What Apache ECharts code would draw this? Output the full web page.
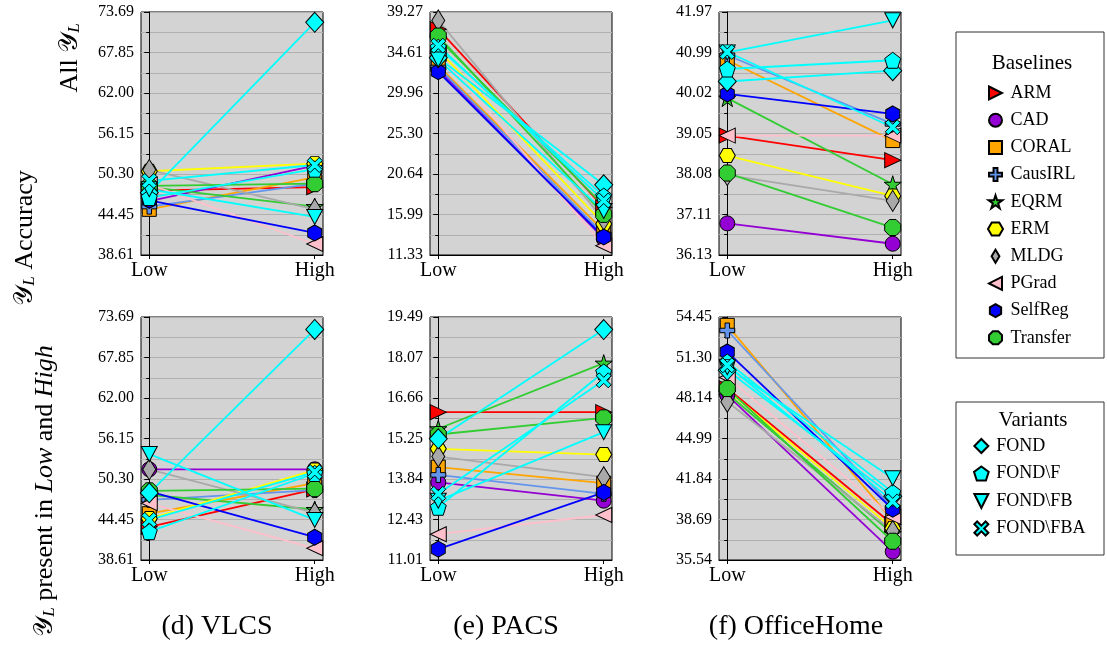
<!DOCTYPE html>
<html>
<head>
<meta charset="utf-8">
<script src="https://cdn.jsdelivr.net/npm/echarts@6/dist/echarts.min.js"></script>
<style>
  html, body { margin: 0; padding: 0; background: #fff; }
  #box { width: 1107px; height: 646px; }
</style>
</head>
<body>
<div id="box"></div>
<script>
var methods = ['ARM', 'CAD', 'CORAL', 'CausIRL', 'EQRM', 'ERM', 'MLDG', 'PGrad', 'SelfReg', 'Transfer',
  'FOND', 'FOND\\F', 'FOND\\FB', 'FOND\\FBA'];
var baselines = methods.slice(0, 10);
var variants = methods.slice(10);
var xLabels = ['Low', 'High'];
var titles = ['(d) VLCS', '(e) PACS', '(f) OfficeHome'];

// top row: all Y_L
var vlcsAllLow  = [47.9, 46.4, 45.2, 45.6, 48.4, 50.7, 50.9, 48.8, 46.5, 48.6, 47.6, 46.9, 48.1, 49.3];
var vlcsAllHigh = [48.4, 51.5, 49.8, 48.9, 45.6, 51.8, 45.2, 40.2, 41.8, 48.9, 72.2, 51.0, 44.1, 51.6];
var pacsAllLow  = [37.3, 32.7, 33.1, 32.9, 36.2, 34.9, 38.3, 34.5, 32.4, 36.5, 34.0, 35.2, 33.8, 35.4];
var pacsAllHigh = [16.8, 13.2, 14.1, 13.7, 17.0, 14.9, 15.4, 12.4, 13.4, 16.0, 19.4, 18.1, 16.4, 17.6];
var officeAllLow  = [39.00, 36.89, 40.81, 40.93, 39.90, 38.52, 38.05, 39.00, 40.00, 38.10, 40.30, 40.60, 41.00, 41.01];
var officeAllHigh = [38.41, 36.40, 38.88, 39.28, 37.83, 37.55, 37.43, 39.00, 39.52, 36.79, 40.56, 40.81, 41.77, 39.20];

// bottom row: Y_L present in Low and High
var vlcsSubLow  = [43.4, 51.7, 45.3, 47.3, 48.0, 44.6, 51.7, 46.8, 48.5, 48.6, 48.3, 42.7, 53.9, 44.4];
var vlcsSubHigh = [48.8, 51.7, 49.7, 48.7, 45.9, 51.6, 45.4, 40.3, 41.9, 48.9, 71.9, 51.1, 44.4, 51.3];
var pacsSubLow  = [16.17, 13.72, 14.25, 13.98, 15.59, 14.89, 14.62, 11.91, 11.39, 15.39, 15.24, 12.85, 13.08, 13.32];
var pacsSubHigh = [16.17, 13.08, 13.69, 13.32, 17.88, 14.69, 13.90, 12.58, 13.37, 15.97, 19.05, 17.57, 15.47, 17.28];
var officeSubLow  = [48.90, 48.37, 53.80, 53.40, 48.50, 48.75, 47.85, 49.74, 51.73, 48.88, 50.30, 50.95, 50.55, 50.69];
var officeSubHigh = [38.30, 36.19, 38.60, 39.60, 37.60, 38.00, 37.80, 38.90, 39.49, 37.00, 40.50, 40.80, 41.90, 40.10];

var vlcsTicks      = ['38.61', '44.45', '50.30', '56.15', '62.00', '67.85', '73.69'];
var pacsAllTicks   = ['11.33', '15.99', '20.64', '25.30', '29.96', '34.61', '39.27'];
var officeAllTicks = ['36.13', '37.11', '38.08', '39.05', '40.02', '40.99', '41.97'];
var pacsSubTicks   = ['11.01', '12.43', '13.84', '15.25', '16.66', '18.07', '19.49'];
var officeSubTicks = ['35.54', '38.69', '41.84', '44.99', '48.14', '51.30', '54.45'];

var panels = [
  {low: vlcsAllLow, high: vlcsAllHigh, ticks: vlcsTicks},
  {low: pacsAllLow, high: pacsAllHigh, ticks: pacsAllTicks},
  {low: officeAllLow, high: officeAllHigh, ticks: officeAllTicks},
  {low: vlcsSubLow, high: vlcsSubHigh, ticks: vlcsTicks},
  {low: pacsSubLow, high: pacsSubHigh, ticks: pacsSubTicks},
  {low: officeSubLow, high: officeSubHigh, ticks: officeSubTicks}
];

var colors = ['#ff0000', '#9400d3', '#ffa500', '#6495ed', '#32cd32', '#ffff00', '#a9a9a9', '#ffc0cb', '#0000ff', '#32cd32',
  '#00ffff', '#00ffff', '#00ffff', '#00ffff'];

// marker shapes (matplotlib-like), as paths so legend icons keep their aspect
var shapes = {
  ARM: 'path://M0,0L20,10L0,20Z',
  CAD: 'circle',
  CORAL: 'path://M0,0L20,0L20,20L0,20Z',
  CausIRL: 'path://M7,0L13,0L13,7L20,7L20,13L13,13L13,20L7,20L7,13L0,13L0,7L7,7Z',
  EQRM: 'path://M10,0L12.25,6.91L19.51,6.91L13.63,11.18L15.88,18.09L10,13.82L4.12,18.09L6.37,11.18L0.49,6.91L7.75,6.91Z',
  ERM: 'path://M0,10L5,1.34L15,1.34L20,10L15,18.66L5,18.66Z',
  MLDG: 'path://M6,0L12,10L6,20L0,10Z',
  PGrad: 'path://M20,0L0,10L20,20Z',
  SelfReg: 'path://M10,0L18.66,5L18.66,15L10,20L1.34,15L1.34,5Z',
  Transfer: 'path://M19.24,13.83L13.83,19.24L6.17,19.24L0.76,13.83L0.76,6.17L6.17,0.76L13.83,0.76L19.24,6.17Z',
  'FOND': 'path://M10,0L20,10L10,20L0,10Z',
  'FOND\\F': 'path://M10,0L19.51,6.91L15.88,18.09L4.12,18.09L0.49,6.91Z',
  'FOND\\FB': 'path://M0,0L20,0L10,20Z',
  'FOND\\FBA': 'path://M0,4L4,0L10,6L16,0L20,4L14,10L20,16L16,20L10,14L4,20L0,16L6,10Z'
};
var sizes = {
  ARM: [16, 15], CAD: 15, CORAL: 14, CausIRL: 15, EQRM: 17, ERM: [16, 14], MLDG: [13, 21], PGrad: [16, 15],
  SelfReg: [14, 16], Transfer: 16, 'FOND': [18, 20], 'FOND\\F': 16, 'FOND\\FB': [16, 15], 'FOND\\FBA': 15
};

var serif = 'Liberation Serif';
var lefts = [141, 430, 719];
var tops = [12, 317];

var grids = [], xAxes = [], yAxes = [], series = [];
panels.forEach(function (p, i) {
  var col = i % 3, row = Math.floor(i / 3);
  grids.push({
    left: lefts[col], top: tops[row], width: 182, height: 243,
    show: true, backgroundColor: '#d3d3d3', borderColor: '#000', borderWidth: 1
  });
  xAxes.push({
    gridIndex: i, type: 'value', min: -0.05, max: 1.05,
    axisLine: {show: true, onZero: false, lineStyle: {color: '#000'}},
    axisTick: {show: true, customValues: [0, 1], length: 4, lineStyle: {color: '#000'}},
    axisLabel: {
      customValues: [0, 1], margin: 6, color: '#000', fontFamily: serif, fontSize: 20,
      formatter: function (v) { return xLabels[Math.round(v)]; }
    },
    splitLine: {show: false}
  });
  var lo = parseFloat(p.ticks[0]), hi = parseFloat(p.ticks[6]);
  var step = (hi - lo) / 6;
  yAxes.push({
    gridIndex: i, type: 'value', min: lo, max: hi, interval: step,
    axisLine: {show: true, lineStyle: {color: '#000'}},
    axisTick: {show: true, length: 5, lineStyle: {color: '#000'}},
    minorTick: {show: true, splitNumber: 2, length: 3, lineStyle: {color: '#000'}},
    splitLine: {show: true, lineStyle: {color: '#b0b0b0', width: 1.2}},
    minorSplitLine: {show: true, lineStyle: {color: '#b0b0b0', width: 1.2}},
    axisLabel: {
      margin: 7, color: '#000', fontFamily: serif, fontSize: 16,
      formatter: function (v) { return p.ticks[Math.round((v - lo) / step)]; }
    }
  });
  methods.forEach(function (m, k) {
    series.push({
      name: m, type: 'line', xAxisIndex: i, yAxisIndex: i,
      data: [[0, p.low[k]], [1, p.high[k]]],
      symbol: shapes[m], symbolSize: sizes[m],
      itemStyle: {color: colors[k], borderColor: '#000', borderWidth: 1},
      lineStyle: {color: colors[k], width: 1.8},
      emphasis: {disabled: true}
    });
  });
});

var legendText = {fontFamily: serif, fontSize: 18, color: '#000'};
var option = {
  animation: false,
  backgroundColor: '#fff',
  grid: grids,
  xAxis: xAxes,
  yAxis: yAxes,
  series: series,
  legend: [
    {
      data: baselines.map(function (m) { return {name: m, icon: shapes[m]}; }),
      orient: 'vertical', left: 982, top: 79, itemWidth: 20, itemHeight: 13, itemGap: 9.2,
      selectedMode: false, textStyle: legendText
    },
    {
      data: variants.map(function (m) { return {name: m, icon: shapes[m]}; }),
      orient: 'vertical', left: 968, top: 432, itemWidth: 20, itemHeight: 14, itemGap: 9.5,
      selectedMode: false, textStyle: legendText
    }
  ],
  graphic: [
    {type: 'rect', z: -1, shape: {x: 956, y: 32, width: 148, height: 326}, style: {fill: '#fff', stroke: '#333', lineWidth: 1}},
    {type: 'rect', z: -1, shape: {x: 956, y: 402, width: 148, height: 153}, style: {fill: '#fff', stroke: '#333', lineWidth: 1}},
    {type: 'text', x: 1032, y: 63, style: {text: 'Baselines', font: '21px ' + serif, fill: '#000', align: 'center', verticalAlign: 'middle'}},
    {type: 'text', x: 1033, y: 420, style: {text: 'Variants', font: '21px ' + serif, fill: '#000', align: 'center', verticalAlign: 'middle'}},
    {type: 'text', x: 217, y: 627, style: {text: titles[0], font: '28px ' + serif, fill: '#000', align: 'center', verticalAlign: 'middle'}},
    {type: 'text', x: 506, y: 627, style: {text: titles[1], font: '28px ' + serif, fill: '#000', align: 'center', verticalAlign: 'middle'}},
    {type: 'text', x: 796, y: 627, style: {text: titles[2], font: '28px ' + serif, fill: '#000', align: 'center', verticalAlign: 'middle'}},
    // row labels, rotated to read upward
    {type: 'text', x: 70, y: 58, rotation: Math.PI / 2, style: {
      text: 'All {y|𝒴}{s|L}', font: '26px ' + serif, fill: '#000', align: 'center', verticalAlign: 'middle',
      rich: {y: {fontSize: 26, fontFamily: serif}, s: {fontSize: 17, fontStyle: 'italic', fontFamily: serif, verticalAlign: 'bottom'}}
    }},
    {type: 'text', x: 25, y: 238, rotation: Math.PI / 2, style: {
      text: '{y|𝒴}{s|L} Accuracy', font: '26px ' + serif, fill: '#000', align: 'center', verticalAlign: 'middle',
      rich: {y: {fontSize: 26, fontFamily: serif}, s: {fontSize: 17, fontStyle: 'italic', fontFamily: serif, verticalAlign: 'bottom'}}
    }},
    {type: 'text', x: 45, y: 491, rotation: Math.PI / 2, style: {
      text: '{y|𝒴}{s|L} present in {i|Low} and {i|High}', font: '26px ' + serif, fill: '#000', align: 'center', verticalAlign: 'middle',
      rich: {
        y: {fontSize: 26, fontFamily: serif},
        s: {fontSize: 17, fontStyle: 'italic', fontFamily: serif, verticalAlign: 'bottom'},
        i: {fontSize: 26, fontStyle: 'italic', fontFamily: serif}
      }
    }}
  ]
};

var mychart = echarts.init(document.getElementById('box'));
mychart.setOption(option);
</script>
</body>
</html>
